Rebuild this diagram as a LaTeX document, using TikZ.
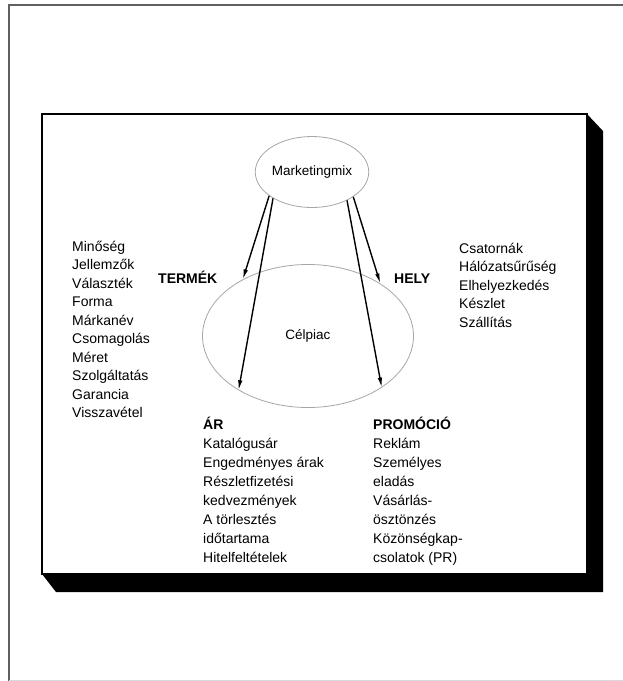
\documentclass[tikz,border=0pt]{standalone}
\usepackage{fontspec}
\setmainfont{Liberation Sans}
\usetikzlibrary{shapes.geometric,arrows.meta}
\tikzset{
	listtext/.style={anchor=base west, inner sep=0pt, font=\fontsize{14}{17}\selectfont},
	headtext/.style={anchor=base west, inner sep=0pt, font=\fontsize{14}{17}\selectfont\bfseries},
	oval/.style={ellipse, draw=gray!70, line width=0.8pt, inner sep=0pt, font=\fontsize{13.5}{16}\selectfont},
	mixarrow/.style={-{Latex[length=10pt,width=4.5pt]}, line width=1.4pt},
}
\begin{document}
\begin{tikzpicture}[x=1pt,y=-1pt]
		\useasboundingbox (0,0) rectangle (623,681);
		\draw[gray!75!black, line width=1.4pt] (623,5) -- (9,5) -- (9,681);
		\draw[gray!30, line width=0.8pt] (9,680) -- (623,680);
		
		\fill (587,114) -- (603,131) -- (603,592) -- (56,592) -- (42,574) -- cycle;
		\draw[fill=white, line width=1.5pt] (42,114) rectangle (587,574);
		
		\node[oval, minimum width=101pt, minimum height=71pt] (mix) at (312,172) {Marketingmix};
		\node[oval, minimum width=211pt, minimum height=143pt] (piac) at (308,336) {Célpiac};
		
		\draw[mixarrow] (mix.209) -- (piac.139);
		\draw[mixarrow] (mix.214) -- (piac.218);
		\draw[mixarrow] (mix.321) -- (piac.325);
		\draw[mixarrow] (mix.329) -- (piac.36);
		
		\node[headtext] (termek) at (158,283) {TERMÉK};
		\node[headtext] (hely) at (394,283) {HELY};
		\node[headtext] (ar) at (203,429) {ÁR};
		\node[headtext] (promocio) at (373,429) {PROMÓCIÓ};
		
		\foreach \i/\t in {0/Minőség, 1/Jellemzők, 2/Választék, 3/Forma, 4/Márkanév, 5/Csomagolás, 6/Méret, 7/Szolgáltatás, 8/Garancia, 9/Visszavétel}{
			\node[listtext] (termek\i) at (72,{251+18.55*\i}) {\t};
		}
		\foreach \i/\t in {0/Csatornák, 1/Hálózatsűrűség, 2/Elhelyezkedés, 3/Készlet, 4/Szállítás}{
			\node[listtext] (hely\i) at (459,{253+18.5*\i}) {\t};
		}
		\foreach \i/\t in {1/Katalógusár, 2/Engedményes árak, 3/Részletfizetési, 4/kedvezmények, 5/A törlesztés, 6/időtartama, 7/Hitelfeltételek}{
			\node[listtext] (ar\i) at (203,{429+19*\i}) {\t};
		}
		\foreach \i/\t in {1/Reklám, 2/Személyes, 3/eladás, 4/Vásárlás-, 5/ösztönzés, 6/Közönségkap-, 7/csolatok (PR)}{
			\node[listtext] (promocio\i) at (373,{429+19*\i}) {\t};
		}
\end{tikzpicture}
\end{document}
